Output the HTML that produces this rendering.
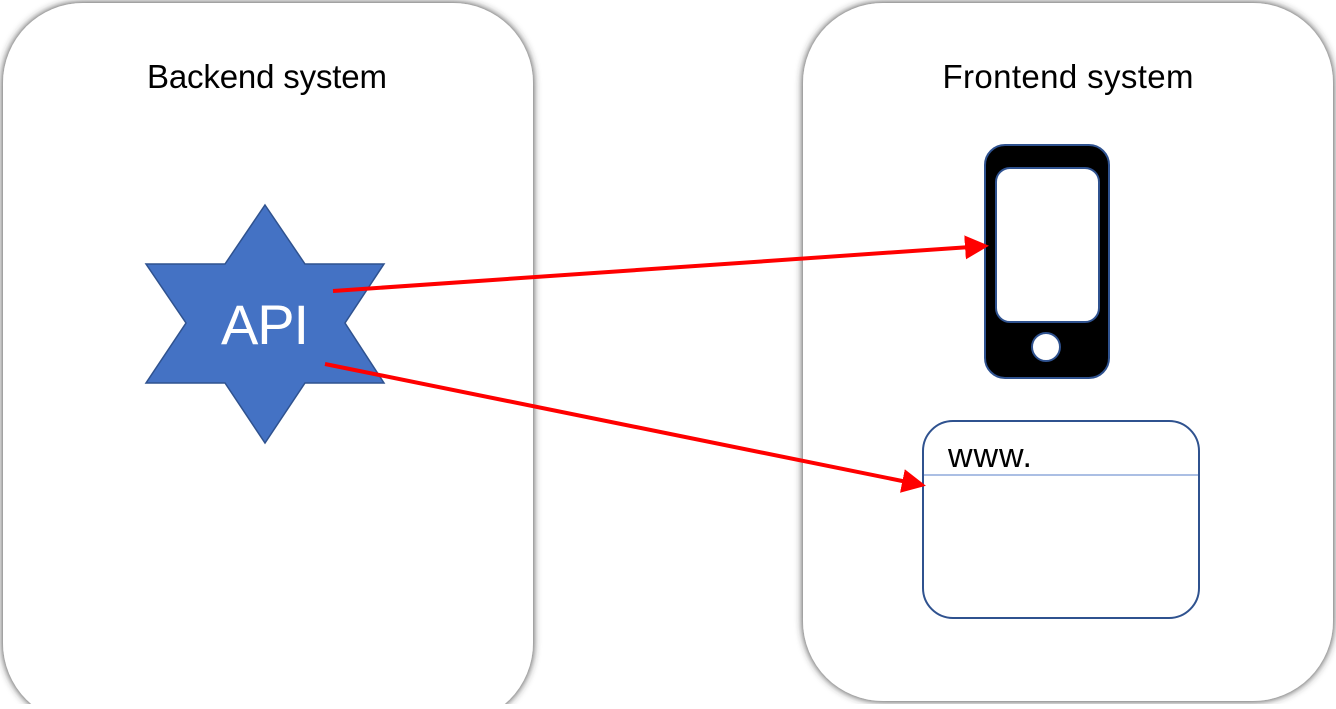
<!DOCTYPE html>
<html><head><style>
body{margin:0;width:1336px;height:704px;background:#fff;overflow:hidden;font-family:"Liberation Sans",Calibri,sans-serif}
</style></head><body>
<svg width="1336" height="704" xmlns="http://www.w3.org/2000/svg">
<defs>
<filter id="sh" x="-5%" y="-5%" width="110%" height="110%">
<feDropShadow dx="0" dy="0" stdDeviation="4" flood-color="#333" flood-opacity="1"/>
</filter>
<marker id="ah" markerWidth="6" markerHeight="6" refX="5" refY="3" orient="auto" markerUnits="strokeWidth">
<path d="M0,0 L6,3 L0,6 Z" fill="#f00"/>
</marker>
</defs>
<rect x="3" y="3" width="530" height="720" rx="80" fill="#fff" filter="url(#sh)"/>
<rect x="803" y="3" width="530" height="698" rx="80" fill="#fff" filter="url(#sh)"/>
<text x="267" y="88" font-size="33" text-anchor="middle" fill="#000" textLength="240">Backend system</text>
<text x="1068" y="88" font-size="33" text-anchor="middle" fill="#000" textLength="251">Frontend system</text>
<polygon points="265,205 305,264 384,264 345,323 384,383 305,383 265,443 225,383 146,383 186,323 146,264 225,264" fill="#4472C4" stroke="#2F528F" stroke-width="1.5"/>
<text x="265" y="344" font-size="56" text-anchor="middle" fill="#fff" textLength="88">API</text>
<rect x="985" y="145" width="124" height="233" rx="20" fill="#000" stroke="#2F528F" stroke-width="2"/>
<rect x="996" y="168" width="103" height="154" rx="14" fill="#fff" stroke="#2F528F" stroke-width="2"/>
<circle cx="1046" cy="347" r="14" fill="#fff" stroke="#2F528F" stroke-width="2"/>
<rect x="923" y="421" width="276" height="197" rx="30" fill="#fff" stroke="#2F528F" stroke-width="2"/>
<line x1="924" y1="475" x2="1198" y2="475" stroke="#8FAADC" stroke-width="1.5"/>
<text x="948" y="467" font-size="34" fill="#000" textLength="84">www.</text>
<line x1="333" y1="291" x2="985" y2="246" stroke="#f00" stroke-width="4" marker-end="url(#ah)"/>
<line x1="325" y1="364" x2="922" y2="485" stroke="#f00" stroke-width="4" marker-end="url(#ah)"/>
</svg>
</body></html>
